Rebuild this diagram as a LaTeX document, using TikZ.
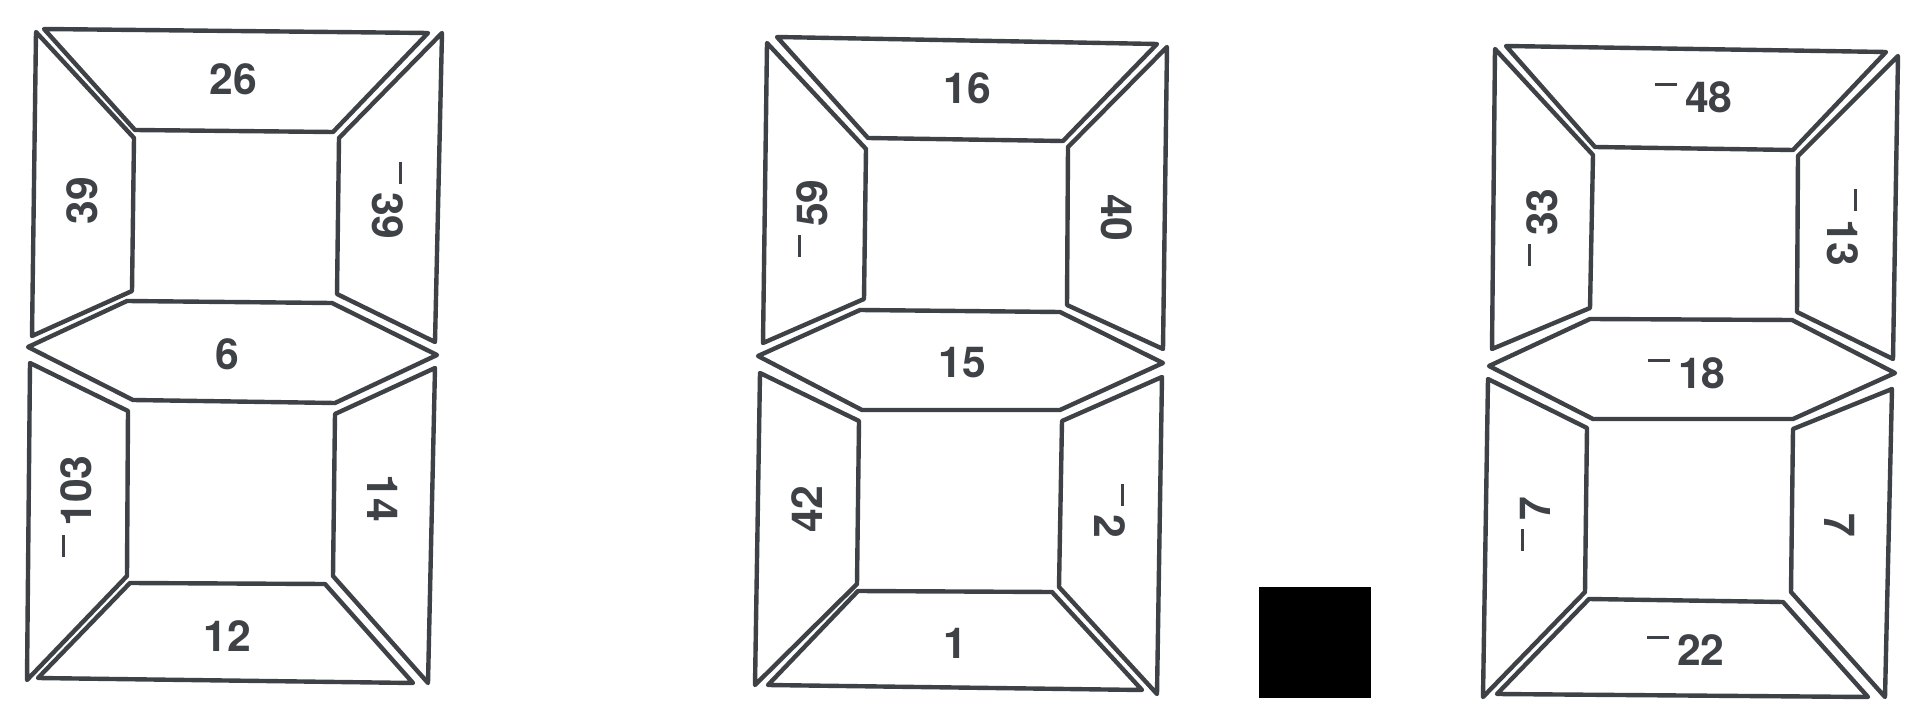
\documentclass[tikz,border=0pt]{standalone}
\usepackage{fontspec}
\newfontfamily\segfont{TeX Gyre Heros}
\definecolor{ink}{RGB}{62,66,70}
\newcommand{\mns}{\raisebox{0.62em}{\rule{0.5em}{0.06em}}\hspace{0.2em}}
\tikzset{every picture/.style={line width=3.3pt}}

\begin{document}
\begin{tikzpicture}[x=0.75pt,y=0.75pt,yscale=-1,xscale=1,
  seg/.style={draw=ink,line join=round},
  lab/.style={text=ink,inner sep=0pt,font=\segfont\fontsize{32}{32}\selectfont\bfseries}]
\useasboundingbox (0,0) rectangle (1918,727);

%Panel 1
%Shape: Polygon [id:top1]
\draw [seg] (44,29) -- (428,33) -- (333,132) -- (135,130) -- cycle ;
%Shape: Polygon [id:lu1]
\draw [seg] (36,32) -- (134,138) -- (132,291) -- (32,336) -- cycle ;
%Shape: Polygon [id:ru1]
\draw [seg] (442,33) -- (339,138) -- (337,294) -- (435,342) -- cycle ;
%Shape: Polygon [id:mid1]
\draw [seg] (28,347) -- (127,301) -- (332,303) -- (437,355) -- (335,403) -- (133,400) -- cycle ;
%Shape: Polygon [id:ll1]
\draw [seg] (30,363) -- (128,411) -- (127,576) -- (27,680) -- cycle ;
%Shape: Polygon [id:rl1]
\draw [seg] (435,368) -- (335,414) -- (333,576) -- (428,683) -- cycle ;
%Shape: Polygon [id:bot1]
\draw [seg] (130,583) -- (325,584) -- (413,683) -- (38,678) -- cycle ;

% Text Node
\draw (233,79) node [lab] (t1) {26};
% Text Node
\draw (82,201) node [lab,rotate=90] (lu1) {39};
% Text Node
\draw (388,201) node [lab,rotate=-90] (ru1) {\mns39};
% Text Node
\draw (227,354) node [lab] (m1) {6};
% Text Node
\draw (76,506) node [lab,rotate=90] (ll1) {\mns103};
% Text Node
\draw (383,498) node [lab,rotate=-90] (rl1) {14};
% Text Node
\draw (227,636) node [lab] (b1) {12};

%Panel 2
%Shape: Polygon [id:top2]
\draw [seg] (777,37) -- (1157,44) -- (1063,141) -- (868,138) -- cycle ;
%Shape: Polygon [id:lu2]
\draw [seg] (767,43) -- (866,149) -- (864,299) -- (763,343) -- cycle ;
%Shape: Polygon [id:ru2]
\draw [seg] (1167,47) -- (1068,147) -- (1067,305) -- (1163,349) -- cycle ;
%Shape: Polygon [id:mid2]
\draw [seg] (758,356) -- (860,310) -- (1060,312) -- (1163,363) -- (1060,410) -- (862,410) -- cycle ;
%Shape: Polygon [id:ll2]
\draw [seg] (760,373) -- (859,421) -- (857,584) -- (755,685) -- cycle ;
%Shape: Polygon [id:rl2]
\draw [seg] (1162,377) -- (1062,421) -- (1059,587) -- (1157,694) -- cycle ;
%Shape: Polygon [id:bot2]
\draw [seg] (858,591) -- (1052,592) -- (1142,690) -- (768,685) -- cycle ;

% Text Node
\draw (967,88) node [lab] (t2) {16};
% Text Node
\draw (812,218) node [lab,rotate=90] (lu2) {\mns59};
% Text Node
\draw (1117,218) node [lab,rotate=-90] (ru2) {40};
% Text Node
\draw (962,363) node [lab] (m2) {15};
% Text Node
\draw (807,509) node [lab,rotate=90] (ll2) {42};
% Text Node
\draw (1110,511) node [lab,rotate=-90] (rl2) {\mns2};
% Text Node
\draw (955,643) node [lab] (b2) {1};

%Shape: Square [id:blk]
\fill [black] (1259,587) rectangle (1371,698) ;

%Panel 3
%Shape: Polygon [id:top3]
\draw [seg] (1506,46) -- (1886,52) -- (1793,150) -- (1595,147) -- cycle ;
%Shape: Polygon [id:lu3]
\draw [seg] (1495,49) -- (1593,155) -- (1590,308) -- (1492,349) -- cycle ;
%Shape: Polygon [id:ru3]
\draw [seg] (1898,56) -- (1798,156) -- (1797,312) -- (1893,359) -- cycle ;
%Shape: Polygon [id:mid3]
\draw [seg] (1489,366) -- (1590,319) -- (1792,320) -- (1895,373) -- (1793,419) -- (1593,419) -- cycle ;
%Shape: Polygon [id:ll3]
\draw [seg] (1488,379) -- (1587,428) -- (1585,592) -- (1483,697) -- cycle ;
%Shape: Polygon [id:rl3]
\draw [seg] (1892,389) -- (1793,429) -- (1791,592) -- (1885,697) -- cycle ;
%Shape: Polygon [id:bot3]
\draw [seg] (1589,599) -- (1783,602) -- (1868,697) -- (1497,694) -- cycle ;

% Text Node
\draw (1694,97) node [lab] (t3) {\mns48};
% Text Node
\draw (1542,227) node [lab,rotate=90] (lu3) {\mns33};
% Text Node
\draw (1843,228) node [lab,rotate=-90] (ru3) {\mns13};
% Text Node
\draw (1687,373) node [lab] (m3) {\mns18};
% Text Node
\draw (1535,524) node [lab,rotate=90] (ll3) {\mns7};
% Text Node
\draw (1840,525) node [lab,rotate=-90] (rl3) {7};
% Text Node
\draw (1686,650) node [lab] (b3) {\mns22};

\end{tikzpicture}
\end{document}
